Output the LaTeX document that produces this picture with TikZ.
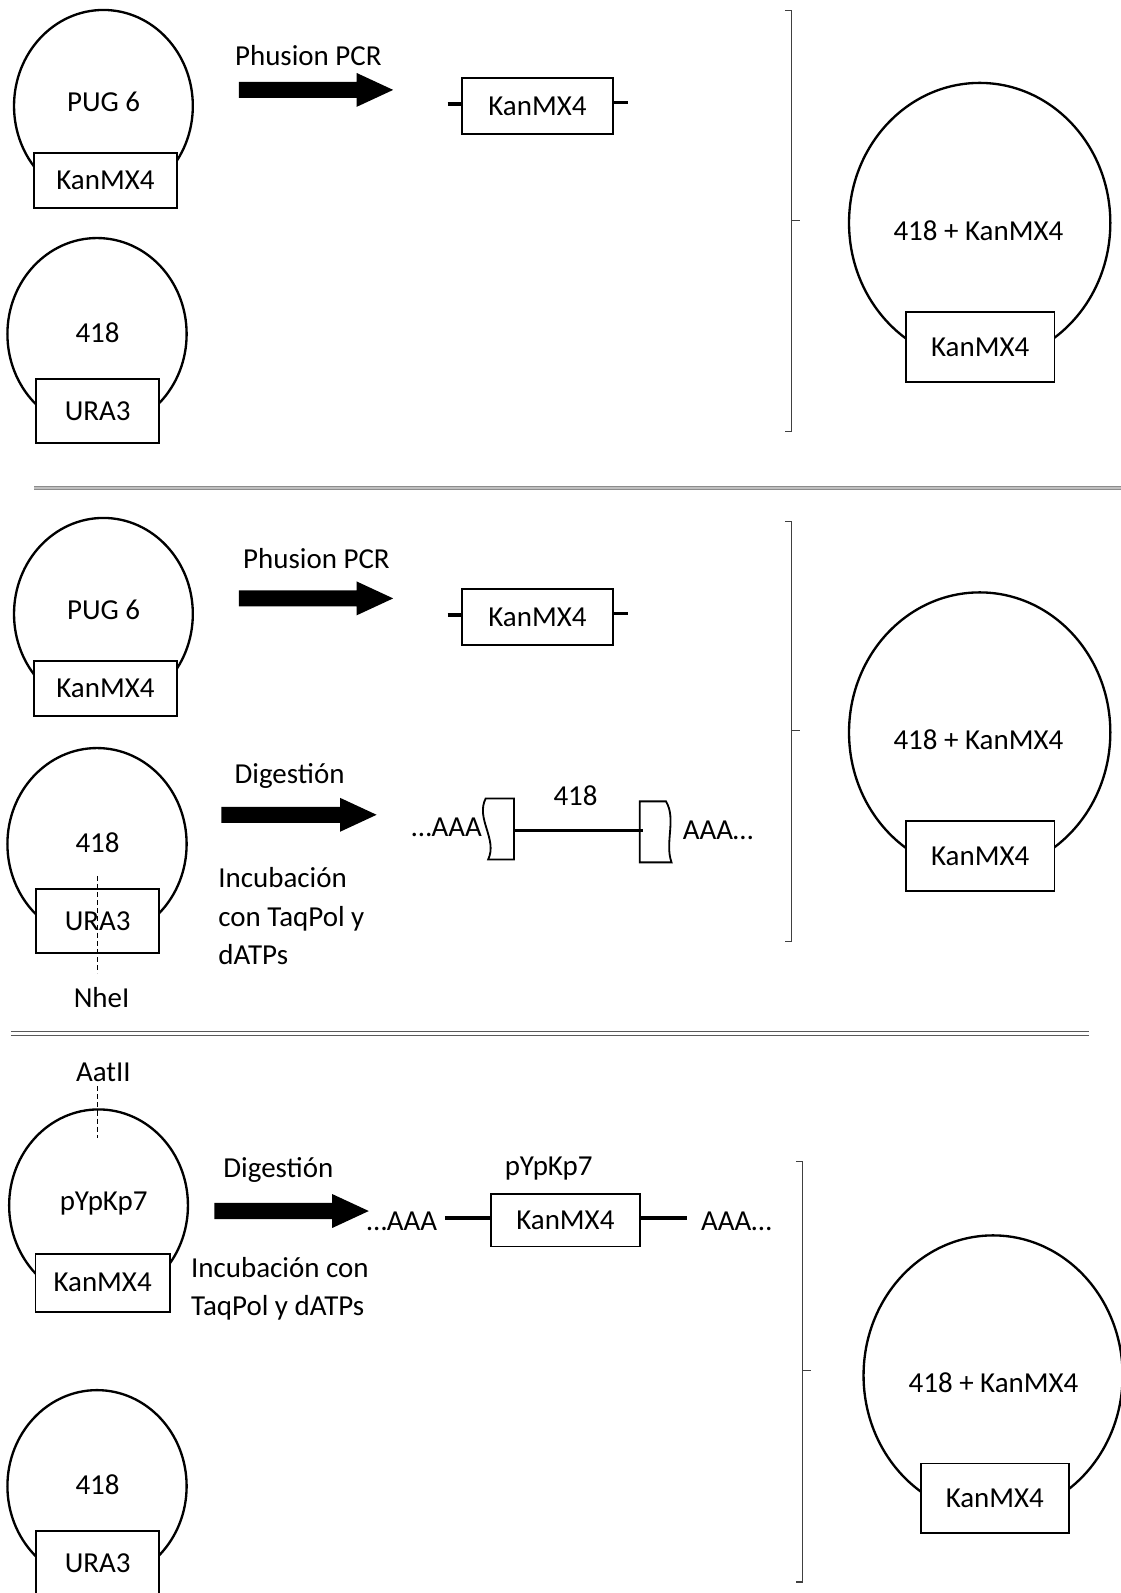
\documentclass[tikz,border=0pt]{standalone}
\usepackage{fontspec}
\setmainfont{Carlito}
\usetikzlibrary{shapes.geometric}
\newcommand\fatarrow[3]{%
  \fill (#1,#2-7.9) -- ({#3-36},#2-7.9) -- ({#3-36},#2-16.7) -- (#3,#2) -- ({#3-36},#2+16.7) -- ({#3-36},#2+7.9) -- (#1,#2+7.9) -- cycle;}
\begin{document}
\begin{tikzpicture}[x=1pt,y=-1pt,
  lbl/.style={font=\fontsize{28.5}{34}\selectfont, inner sep=0pt},
  plasmid/.style={ellipse, draw, line width=2.3pt, inner sep=0pt},
  gene/.style={draw, line width=1.8pt, fill=white, inner sep=0pt, font=\fontsize{28.5}{34}\selectfont},
  dna/.style={line width=3.6pt},
  flag/.style={draw, line width=1.8pt, fill=white},
  brk/.style={draw=black!75, line width=1.3pt},
  cutsite/.style={line width=1pt, dash pattern=on 5pt off 3pt}]
\useasboundingbox (0,0) rectangle (1103,1568);

% ================= Section 1 =================
\node[plasmid, minimum width=176pt, minimum height=189pt] (p1) at (101.8,104.3) {};
\node[lbl, anchor=base] (p1t) at (102,109.5) {PUG 6};
\node[gene, minimum width=140.5pt, minimum height=54.2pt] (g1) at (103.75,177.6) {KanMX4};

\node[plasmid, minimum width=176.4pt, minimum height=189pt] (p2) at (95.5,328.8) {};
\node[lbl, anchor=base] (p2t) at (96,337.5) {418};
\node[gene, minimum width=121.4pt, minimum height=63pt] (g2) at (96.1,404.5) {URA3};

\node[lbl, anchor=base] (t1) at (303.5,64.6) {Phusion PCR};
\fatarrow{235}{88.5}{387}

\node[gene, minimum width=148pt, minimum height=55pt] (f1) at (529,104.5) {KanMX4};
\coordinate (f1l) at (440.5,102.6);
\coordinate (f1r) at (618,101);
\draw[dna] (f1l) -- (f1.west |- f1l);
\draw[dna] (f1.east |- f1r) -- (f1r);

\coordinate (b1t) at (779,10.5);
\coordinate (b1m) at (779,217);
\coordinate (b1b) at (779,424.8);
\draw[brk] ([xshift=-6.5pt]b1t) -- (b1t) -- (b1b) -- ([xshift=-6.5pt]b1b);
\draw[brk] (b1m) -- ([xshift=8pt]b1m);

\node[plasmid, minimum width=257.2pt, minimum height=275.6pt] (r1) at (964.3,219.4) {};
\node[lbl, anchor=base] (r1t) at (963,236.5) {418 + KanMX4};
\node[gene, minimum width=146.5pt, minimum height=68.3pt] (rg1) at (964.75,341.45) {KanMX4};

% separator 1
\coordinate (s1a) at (33.5,480.3);
\coordinate (s1b) at (1103,480.3);
\draw[line width=4.2pt, draw=black!45] (s1a) -- (s1b);
\draw[line width=1.2pt, draw=black!25] (s1a) -- (s1b);

% ================= Section 2 =================
\node[plasmid, minimum width=176pt, minimum height=189pt] (p3) at (101.8,604.3) {};
\node[lbl, anchor=base] (p3t) at (102,609.5) {PUG 6};
\node[gene, minimum width=140.5pt, minimum height=54.2pt] (g3) at (103.75,677.6) {KanMX4};

\node[lbl, anchor=base] (t2) at (311.5,560) {Phusion PCR};
\fatarrow{235}{589}{387}

\node[gene, minimum width=148pt, minimum height=55pt] (f2) at (529,607.5) {KanMX4};
\coordinate (f2l) at (440.5,605.5);
\coordinate (f2r) at (618,604);
\draw[dna] (f2l) -- (f2.west |- f2l);
\draw[dna] (f2.east |- f2r) -- (f2r);

\coordinate (b2t) at (779,513);
\coordinate (b2m) at (779,719);
\coordinate (b2b) at (779,927);
\draw[brk] ([xshift=-6.5pt]b2t) -- (b2t) -- (b2b) -- ([xshift=-6.5pt]b2b);
\draw[brk] (b2m) -- ([xshift=8pt]b2m);

\node[plasmid, minimum width=257.2pt, minimum height=275.6pt] (r2) at (964.3,720.9) {};
\node[lbl, anchor=base] (r2t) at (963,737.5) {418 + KanMX4};
\node[gene, minimum width=146.5pt, minimum height=68.3pt] (rg2) at (964.75,842.5) {KanMX4};

\node[plasmid, minimum width=176.4pt, minimum height=189pt] (p4) at (95.5,830.8) {};
\node[lbl, anchor=base] (p4t) at (96,839.5) {418};
\node[gene, minimum width=121.4pt, minimum height=63pt] (g4) at (96.1,906.5) {URA3};
\coordinate (nh1) at (96,862);
\coordinate (nh2) at (96,958);
\draw[cutsite] (nh1) -- (nh2);
\node[lbl, anchor=base] (nhe) at (100,992) {NheI};

\node[lbl, anchor=base] (d2) at (285,771) {Digestión};
\fatarrow{218}{802}{370.7}
\node[lbl, anchor=base west] (i2a) at (214.8,874) {Incubación};
\node[lbl, anchor=base west] (i2b) at (214.8,912) {con TaqPol y};
\node[lbl, anchor=base west] (i2c) at (214.8,949) {dATPs};

% digested 418 fragment
\node[lbl, anchor=base east] (aL) at (474.5,823.5) {…AAA};
\draw[flag] (478,786) -- (506,786) -- (506,846) -- (480.5,846) .. controls (490,826) and (468,806) .. (478,786) -- cycle;
\draw[flag] (629.7,788.8) -- (655.5,788.8) .. controls (666,806) and (654,830) .. (661,848.8) -- (629.7,848.8) -- cycle;
\coordinate (l418a) at (506,817.4);
\coordinate (l418b) at (633,817.4);
\draw[dna] (l418a) -- (l418b);
\node[lbl, anchor=base] (n418) at (566.5,793) {418};
\node[lbl, anchor=base west] (aR) at (672,826.5) {AAA…};

% separator 2
\coordinate (s2a) at (10.8,1015.5);
\coordinate (s2b) at (1072,1015.5);
\coordinate (s2c) at (10.8,1019.4);
\coordinate (s2d) at (1072,1019.4);
\draw[line width=1.3pt, draw=black!65] (s2a) -- (s2b);
\draw[line width=1.3pt, draw=black!65] (s2c) -- (s2d);

% ================= Section 3 =================
\node[lbl, anchor=base] (aat) at (101.7,1064.3) {AatII};
\coordinate (aa1) at (95.8,1069);
\coordinate (aa2) at (95.8,1120);
\draw[cutsite] (aa1) -- (aa2);

\node[plasmid, minimum width=176pt, minimum height=189pt] (p5) at (97,1186.5) {};
\node[lbl, anchor=base] (p5t) at (102,1191) {pYpKp7};
\node[gene, minimum width=132pt, minimum height=57pt] (g5) at (101,1262.5) {KanMX4};

\node[lbl, anchor=base] (d3) at (274,1159) {Digestión};
\fatarrow{211}{1192}{363}
\node[lbl, anchor=base west] (i3a) at (188,1257) {Incubación con};
\node[lbl, anchor=base west] (i3b) at (188,1295) {TaqPol y dATPs};

\node[lbl, anchor=base] (pyl) at (540,1157) {pYpKp7};
\node[lbl, anchor=base east] (aL3) at (430.5,1211) {…AAA};
\node[gene, minimum width=147pt, minimum height=52pt] (f3) at (556.5,1201) {KanMX4};
\coordinate (f3l) at (438,1199);
\coordinate (f3r) at (676,1199);
\draw[dna] (f3l) -- (f3.west |- f3l);
\draw[dna] (f3.east |- f3r) -- (f3r);
\node[lbl, anchor=base west] (aR3) at (690,1211) {AAA…};

\coordinate (b3t) at (789.8,1143);
\coordinate (b3m) at (789.8,1348.7);
\coordinate (b3b) at (789.8,1557);
\draw[brk] ([xshift=-6.5pt]b3t) -- (b3t) -- (b3b) -- ([xshift=-6.5pt]b3b);
\draw[brk] (b3m) -- ([xshift=8pt]b3m);

\node[plasmid, minimum width=255pt, minimum height=275.6pt] (r3) at (977.5,1353.8) {};
\node[lbl, anchor=base] (r3t) at (977.9,1370.5) {418 + KanMX4};
\node[gene, minimum width=146pt, minimum height=68.2pt] (rg3) at (979.2,1474.6) {KanMX4};

\node[plasmid, minimum width=176.4pt, minimum height=189pt] (p6) at (95.5,1462.8) {};
\node[lbl, anchor=base] (p6t) at (96,1471.5) {418};
\node[gene, minimum width=121.4pt, minimum height=63pt] (g6) at (96.1,1538.5) {URA3};
\end{tikzpicture}
\end{document}
